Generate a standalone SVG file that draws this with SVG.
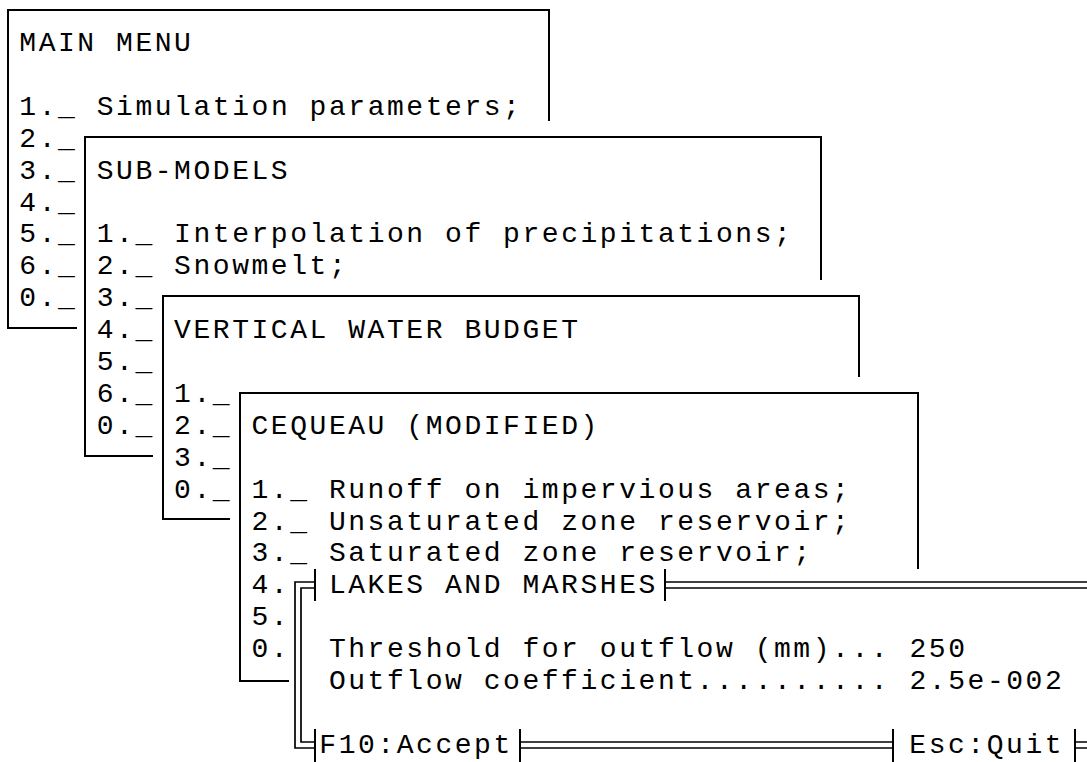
<svg xmlns="http://www.w3.org/2000/svg" width="1087" height="762" viewBox="0 0 1087 762">
<style>
text{font-family:"Liberation Mono","Courier New",monospace;font-size:28px;letter-spacing:2.55px;fill:#000}
.ln{fill:none;stroke:#000;stroke-width:2}
.dl{fill:none;stroke:#000;stroke-width:1.7}
</style>
<rect width="1087" height="762" fill="#fff"/>
<g id="main-menu">
<path class="ln" d="M549,121 V10 H8 V328 H77"/>
<text x="19.3" y="51">MAIN MENU</text>
<text x="19.3" y="114.8">1._ Simulation parameters;</text>
<text x="19.3" y="146.7">2._</text>
<text x="19.3" y="178.6">3._</text>
<text x="19.3" y="210.5">4._</text>
<text x="19.3" y="242.4">5._</text>
<text x="19.3" y="274.3">6._</text>
<text x="19.3" y="306.2">0._</text>
</g>
<g id="sub-models">
<path class="ln" d="M821,280 V137 H85 V456 H153"/>
<text x="96.7" y="178.6">SUB-MODELS</text>
<text x="96.7" y="242.4">1._ Interpolation of precipitations;</text>
<text x="96.7" y="274.3">2._ Snowmelt;</text>
<text x="96.7" y="306.2">3._</text>
<text x="96.7" y="338.1">4._</text>
<text x="96.7" y="370">5._</text>
<text x="96.7" y="401.9">6._</text>
<text x="96.7" y="433.8">0._</text>
</g>
<g id="vertical-water-budget">
<path class="ln" d="M859,377 V296 H163 V519 H230"/>
<text x="174.1" y="338.1">VERTICAL WATER BUDGET</text>
<text x="174.1" y="401.9">1._</text>
<text x="174.1" y="433.8">2._</text>
<text x="174.1" y="465.7">3._</text>
<text x="174.1" y="497.6">0._</text>
</g>
<g id="cequeau">
<path class="ln" d="M918,569 V393 H240 V681 H289"/>
<text x="251.5" y="433.8">CEQUEAU (MODIFIED)</text>
<text x="251.5" y="497.6">1._ Runoff on impervious areas;</text>
<text x="251.5" y="529.5">2._ Unsaturated zone reservoir;</text>
<text x="251.5" y="561.4">3._ Saturated zone reservoir;</text>
<text x="251.5" y="593.3">4.</text>
<text x="251.5" y="625.2">5.</text>
<text x="251.5" y="657.1">0.</text>
</g>
<g id="lakes-and-marshes">
<path class="dl" d="M315,582 H295 V748 H315"/>
<path class="dl" d="M315,588 H301 V742 H315"/>
<path class="ln" d="M315,569 V601 M665,569 V601"/>
<path class="dl" d="M665,582 H1087 M665,588 H1087"/>
<path class="ln" d="M315,729 V762 M520,729 V762 M893,729 V762 M1075,729 V762"/>
<path class="dl" d="M520,742 H893 M520,748 H893 M1075,742 H1087 M1075,748 H1087"/>
<text x="328.9" y="593.3">LAKES AND MARSHES</text>
<text x="328.9" y="657.1">Threshold for outflow (mm)... 250</text>
<text x="328.9" y="689">Outflow coefficient.......... 2.5e-002</text>
<text x="319.3" y="752.8">F10:Accept</text>
<text x="909.3" y="752.8">Esc:Quit</text>
</g>
</svg>
